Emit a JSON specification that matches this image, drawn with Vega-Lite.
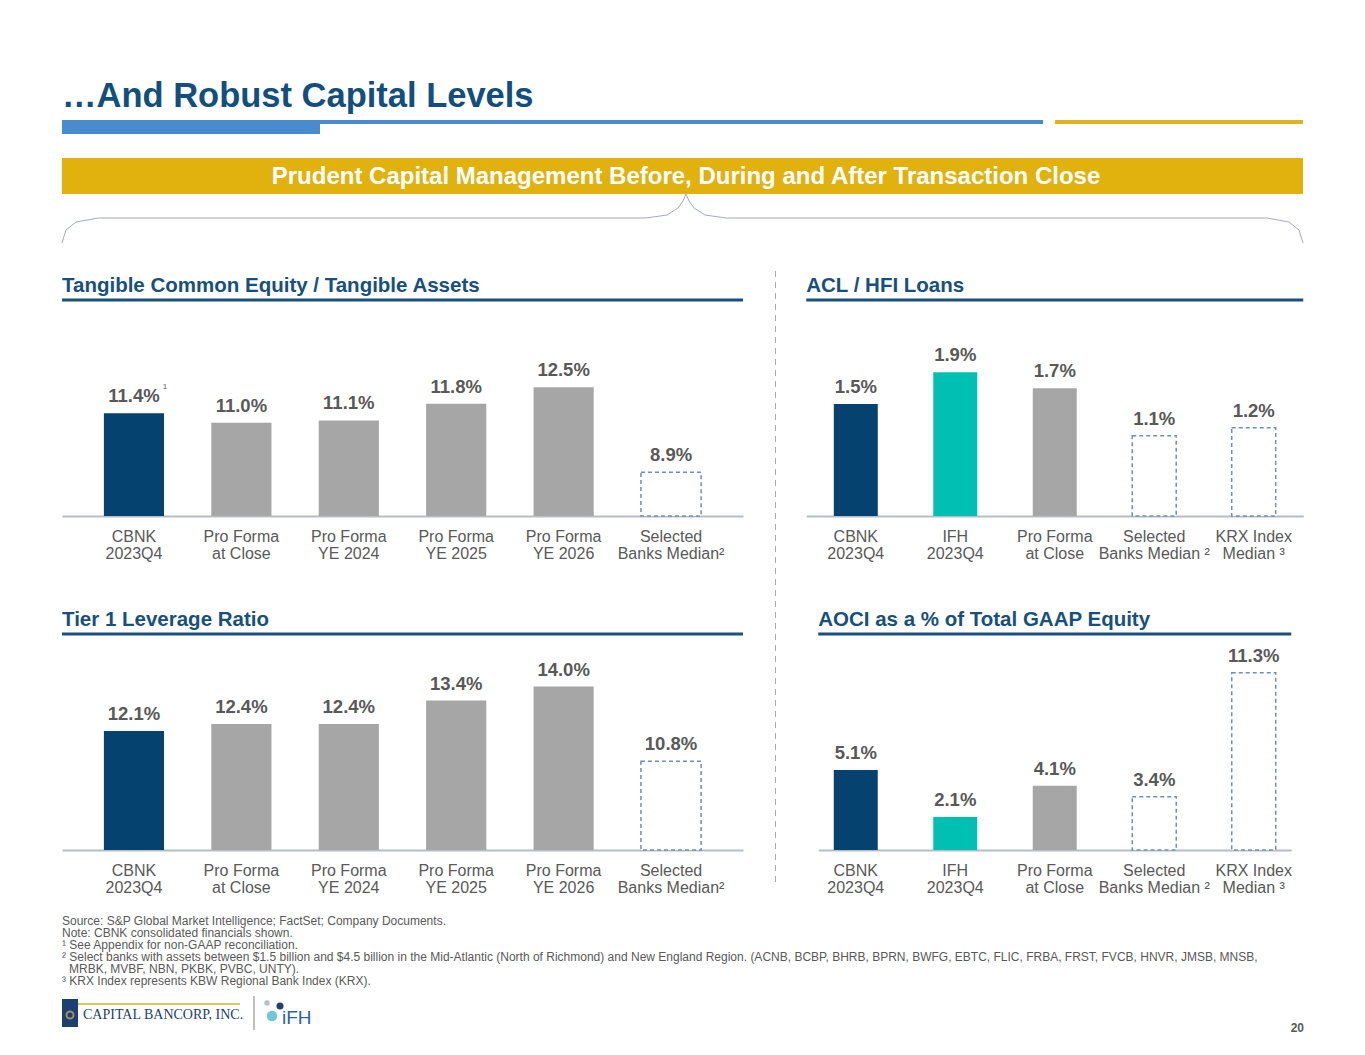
{
"$schema": "https://vega.github.io/schema/vega-lite/v6.json",
"background": "white",
"padding": {"left": 60, "top": 70, "right": 10, "bottom": 5},
"config": {"view": {"stroke": null}, "font": "Liberation Sans",
  "title": {"anchor": "start", "frame": "group", "fontSize": 20.5, "fontWeight": "bold", "color": "#17507F", "font": "Liberation Sans", "offset": 2}},
"spacing": 2,
"vconcat": [
{
 "width": 1241, "height": 198,
 "data": {"values": [{}]},
 "layer": [
  {"mark": {"type": "text", "text": "…And Robust Capital Levels", "fontSize": 34.5, "fontWeight": "bold", "color": "#124F7E", "align": "left", "baseline": "alphabetic"},
   "encoding": {"x": {"datum": 0, "type": "quantitative", "scale": {"domain": [0,1241], "nice": false, "zero": false}, "axis": null}, "y": {"datum": 36.5, "type": "quantitative", "scale": {"domain": [0,198], "reverse": true, "nice": false, "zero": false}, "axis": null}}},
  {"mark": {"type": "rect", "color": "#4A8BD0"},
   "encoding": {"x": {"datum": 0, "type": "quantitative", "scale": {"domain": [0,1241], "nice": false, "zero": false}, "axis": null}, "x2": {"datum": 258}, "y": {"datum": 50, "type": "quantitative", "scale": {"domain": [0,198], "reverse": true, "nice": false, "zero": false}, "axis": null}, "y2": {"datum": 64}}},
  {"mark": {"type": "rect", "color": "#4A8BD0"},
   "encoding": {"x": {"datum": 258, "type": "quantitative", "scale": {"domain": [0,1241], "nice": false, "zero": false}, "axis": null}, "x2": {"datum": 981}, "y": {"datum": 50, "type": "quantitative", "scale": {"domain": [0,198], "reverse": true, "nice": false, "zero": false}, "axis": null}, "y2": {"datum": 54}}},
  {"mark": {"type": "rect", "color": "#E3B31B"},
   "encoding": {"x": {"datum": 993, "type": "quantitative", "scale": {"domain": [0,1241], "nice": false, "zero": false}, "axis": null}, "x2": {"datum": 1241}, "y": {"datum": 50, "type": "quantitative", "scale": {"domain": [0,198], "reverse": true, "nice": false, "zero": false}, "axis": null}, "y2": {"datum": 54}}},
  {"mark": {"type": "rect", "color": "#E1B10E"},
   "encoding": {"x": {"datum": 0, "type": "quantitative", "scale": {"domain": [0,1241], "nice": false, "zero": false}, "axis": null}, "x2": {"datum": 1241}, "y": {"datum": 88, "type": "quantitative", "scale": {"domain": [0,198], "reverse": true, "nice": false, "zero": false}, "axis": null}, "y2": {"datum": 124}}},
  {"mark": {"type": "text", "text": "Prudent Capital Management Before, During and After Transaction Close", "fontSize": 24, "fontWeight": "bold", "color": "white", "align": "center", "baseline": "middle"},
   "encoding": {"x": {"datum": 624, "type": "quantitative", "scale": {"domain": [0,1241], "nice": false, "zero": false}, "axis": null}, "y": {"datum": 107, "type": "quantitative", "scale": {"domain": [0,198], "reverse": true, "nice": false, "zero": false}, "axis": null}}},
  {"mark": {"type": "rule", "color": "#A3ABC2", "strokeWidth": 1}, "encoding": {"x": {"datum": 0, "type": "quantitative", "scale": {"domain": [0,1241], "nice": false, "zero": false}, "axis": null}, "y": {"datum": 173, "type": "quantitative", "scale": {"domain": [0,198], "reverse": true, "nice": false, "zero": false}, "axis": null}, "x2": {"datum": 4}, "y2": {"datum": 160}}},
  {"mark": {"type": "rule", "color": "#A3ABC2", "strokeWidth": 1}, "encoding": {"x": {"datum": 4, "type": "quantitative", "scale": {"domain": [0,1241], "nice": false, "zero": false}, "axis": null}, "y": {"datum": 160, "type": "quantitative", "scale": {"domain": [0,198], "reverse": true, "nice": false, "zero": false}, "axis": null}, "x2": {"datum": 14}, "y2": {"datum": 152}}},
  {"mark": {"type": "rule", "color": "#A3ABC2", "strokeWidth": 1}, "encoding": {"x": {"datum": 14, "type": "quantitative", "scale": {"domain": [0,1241], "nice": false, "zero": false}, "axis": null}, "y": {"datum": 152, "type": "quantitative", "scale": {"domain": [0,198], "reverse": true, "nice": false, "zero": false}, "axis": null}, "x2": {"datum": 36}, "y2": {"datum": 148}}},
  {"mark": {"type": "rule", "color": "#A3ABC2", "strokeWidth": 1}, "encoding": {"x": {"datum": 36, "type": "quantitative", "scale": {"domain": [0,1241], "nice": false, "zero": false}, "axis": null}, "y": {"datum": 148, "type": "quantitative", "scale": {"domain": [0,198], "reverse": true, "nice": false, "zero": false}, "axis": null}, "x2": {"datum": 584}, "y2": {"datum": 148}}},
  {"mark": {"type": "rule", "color": "#A3ABC2", "strokeWidth": 1}, "encoding": {"x": {"datum": 584, "type": "quantitative", "scale": {"domain": [0,1241], "nice": false, "zero": false}, "axis": null}, "y": {"datum": 148, "type": "quantitative", "scale": {"domain": [0,198], "reverse": true, "nice": false, "zero": false}, "axis": null}, "x2": {"datum": 605}, "y2": {"datum": 145}}},
  {"mark": {"type": "rule", "color": "#A3ABC2", "strokeWidth": 1}, "encoding": {"x": {"datum": 605, "type": "quantitative", "scale": {"domain": [0,1241], "nice": false, "zero": false}, "axis": null}, "y": {"datum": 145, "type": "quantitative", "scale": {"domain": [0,198], "reverse": true, "nice": false, "zero": false}, "axis": null}, "x2": {"datum": 616}, "y2": {"datum": 138}}},
  {"mark": {"type": "rule", "color": "#A3ABC2", "strokeWidth": 1}, "encoding": {"x": {"datum": 616, "type": "quantitative", "scale": {"domain": [0,1241], "nice": false, "zero": false}, "axis": null}, "y": {"datum": 138, "type": "quantitative", "scale": {"domain": [0,198], "reverse": true, "nice": false, "zero": false}, "axis": null}, "x2": {"datum": 621}, "y2": {"datum": 131}}},
  {"mark": {"type": "rule", "color": "#A3ABC2", "strokeWidth": 1}, "encoding": {"x": {"datum": 621, "type": "quantitative", "scale": {"domain": [0,1241], "nice": false, "zero": false}, "axis": null}, "y": {"datum": 131, "type": "quantitative", "scale": {"domain": [0,198], "reverse": true, "nice": false, "zero": false}, "axis": null}, "x2": {"datum": 624}, "y2": {"datum": 124}}},
  {"mark": {"type": "rule", "color": "#A3ABC2", "strokeWidth": 1}, "encoding": {"x": {"datum": 624, "type": "quantitative", "scale": {"domain": [0,1241], "nice": false, "zero": false}, "axis": null}, "y": {"datum": 124, "type": "quantitative", "scale": {"domain": [0,198], "reverse": true, "nice": false, "zero": false}, "axis": null}, "x2": {"datum": 627}, "y2": {"datum": 131}}},
  {"mark": {"type": "rule", "color": "#A3ABC2", "strokeWidth": 1}, "encoding": {"x": {"datum": 627, "type": "quantitative", "scale": {"domain": [0,1241], "nice": false, "zero": false}, "axis": null}, "y": {"datum": 131, "type": "quantitative", "scale": {"domain": [0,198], "reverse": true, "nice": false, "zero": false}, "axis": null}, "x2": {"datum": 632}, "y2": {"datum": 138}}},
  {"mark": {"type": "rule", "color": "#A3ABC2", "strokeWidth": 1}, "encoding": {"x": {"datum": 632, "type": "quantitative", "scale": {"domain": [0,1241], "nice": false, "zero": false}, "axis": null}, "y": {"datum": 138, "type": "quantitative", "scale": {"domain": [0,198], "reverse": true, "nice": false, "zero": false}, "axis": null}, "x2": {"datum": 643}, "y2": {"datum": 145}}},
  {"mark": {"type": "rule", "color": "#A3ABC2", "strokeWidth": 1}, "encoding": {"x": {"datum": 643, "type": "quantitative", "scale": {"domain": [0,1241], "nice": false, "zero": false}, "axis": null}, "y": {"datum": 145, "type": "quantitative", "scale": {"domain": [0,198], "reverse": true, "nice": false, "zero": false}, "axis": null}, "x2": {"datum": 664}, "y2": {"datum": 148}}},
  {"mark": {"type": "rule", "color": "#A3ABC2", "strokeWidth": 1}, "encoding": {"x": {"datum": 664, "type": "quantitative", "scale": {"domain": [0,1241], "nice": false, "zero": false}, "axis": null}, "y": {"datum": 148, "type": "quantitative", "scale": {"domain": [0,198], "reverse": true, "nice": false, "zero": false}, "axis": null}, "x2": {"datum": 1205}, "y2": {"datum": 148}}},
  {"mark": {"type": "rule", "color": "#A3ABC2", "strokeWidth": 1}, "encoding": {"x": {"datum": 1205, "type": "quantitative", "scale": {"domain": [0,1241], "nice": false, "zero": false}, "axis": null}, "y": {"datum": 148, "type": "quantitative", "scale": {"domain": [0,198], "reverse": true, "nice": false, "zero": false}, "axis": null}, "x2": {"datum": 1227}, "y2": {"datum": 152}}},
  {"mark": {"type": "rule", "color": "#A3ABC2", "strokeWidth": 1}, "encoding": {"x": {"datum": 1227, "type": "quantitative", "scale": {"domain": [0,1241], "nice": false, "zero": false}, "axis": null}, "y": {"datum": 152, "type": "quantitative", "scale": {"domain": [0,198], "reverse": true, "nice": false, "zero": false}, "axis": null}, "x2": {"datum": 1237}, "y2": {"datum": 160}}},
  {"mark": {"type": "rule", "color": "#A3ABC2", "strokeWidth": 1}, "encoding": {"x": {"datum": 1237, "type": "quantitative", "scale": {"domain": [0,1241], "nice": false, "zero": false}, "axis": null}, "y": {"datum": 160, "type": "quantitative", "scale": {"domain": [0,198], "reverse": true, "nice": false, "zero": false}, "axis": null}, "x2": {"datum": 1241}, "y2": {"datum": 173}}}
 ]
},
{
 "spacing": 28,
 "hconcat": [
  {
   "spacing": 49,
   "vconcat": [
    {
     "width": 681, "height": 216,
     "title": {"text": "Tangible Common Equity / Tangible Assets"},
     "data": {"values": [
       {"cat": "CBNK|2023Q4", "value": 11.4, "label": "11.4%", "kind": "CBNK", "sup": "1"},
       {"cat": "Pro Forma|at Close", "value": 11.0, "label": "11.0%", "kind": "Pro Forma"},
       {"cat": "Pro Forma|YE 2024", "value": 11.1, "label": "11.1%", "kind": "Pro Forma"},
       {"cat": "Pro Forma|YE 2025", "value": 11.8, "label": "11.8%", "kind": "Pro Forma"},
       {"cat": "Pro Forma|YE 2026", "value": 12.5, "label": "12.5%", "kind": "Pro Forma"},
       {"cat": "Selected|Banks Median²", "value": 8.9, "label": "8.9%", "kind": "Peer"}
     ]},
     "layer": [
      {"transform": [{"filter": "datum.kind != 'Peer'"}],
       "mark": {"type": "bar"},
       "encoding": {
        "x": {"field": "cat", "type": "nominal", "sort": null, "scale": {"domain": ["CBNK|2023Q4","Pro Forma|at Close","Pro Forma|YE 2024","Pro Forma|YE 2025","Pro Forma|YE 2026","Selected|Banks Median²"], "paddingInner": 0.44, "paddingOuter": 0.39}, "axis": {"title": null, "labelAngle": 0, "labelExpr": "split(datum.label, '|')", "labelFontSize": 16, "labelFont": "Liberation Sans", "labelColor": "#595959", "labelLineHeight": 17, "labelPadding": 12, "labelLimit": 300, "ticks": false, "domainColor": "#B5BEC8", "domainWidth": 2, "grid": false}},
        "y": {"field": "value", "type": "quantitative", "scale": {"domain": [7.05, 16.2], "nice": false, "zero": false}, "axis": null},
        "y2": {"datum": 7.05},
        "color": {"field": "kind", "type": "nominal", "scale": {"domain": ["CBNK","IFH","Pro Forma"], "range": ["#06426F","#00BFB3","#A6A6A6"]}, "legend": null}
       }},
      {"transform": [{"filter": "datum.kind == 'Peer'"}],
       "mark": {"type": "bar", "fill": "white", "stroke": "#6E90B6", "strokeDash": [4,3], "strokeWidth": 1.5},
       "encoding": {
        "x": {"field": "cat", "type": "nominal", "sort": null, "scale": {"domain": ["CBNK|2023Q4","Pro Forma|at Close","Pro Forma|YE 2024","Pro Forma|YE 2025","Pro Forma|YE 2026","Selected|Banks Median²"], "paddingInner": 0.44, "paddingOuter": 0.39}, "axis": {"title": null, "labelAngle": 0, "labelExpr": "split(datum.label, '|')", "labelFontSize": 16, "labelFont": "Liberation Sans", "labelColor": "#595959", "labelLineHeight": 17, "labelPadding": 12, "labelLimit": 300, "ticks": false, "domainColor": "#B5BEC8", "domainWidth": 2, "grid": false}},
        "y": {"field": "value", "type": "quantitative", "scale": {"domain": [7.05, 16.2], "nice": false, "zero": false}, "axis": null},
        "y2": {"datum": 7.05}
       }},
      {"mark": {"type": "text", "baseline": "bottom", "dy": -7, "fontSize": 18.5, "fontWeight": "bold", "color": "#595959"},
       "encoding": {
        "x": {"field": "cat", "type": "nominal", "sort": null, "scale": {"domain": ["CBNK|2023Q4","Pro Forma|at Close","Pro Forma|YE 2024","Pro Forma|YE 2025","Pro Forma|YE 2026","Selected|Banks Median²"], "paddingInner": 0.44, "paddingOuter": 0.39}, "axis": {"title": null, "labelAngle": 0, "labelExpr": "split(datum.label, '|')", "labelFontSize": 16, "labelFont": "Liberation Sans", "labelColor": "#595959", "labelLineHeight": 17, "labelPadding": 12, "labelLimit": 300, "ticks": false, "domainColor": "#B5BEC8", "domainWidth": 2, "grid": false}},
        "y": {"field": "value", "type": "quantitative", "scale": {"domain": [7.05, 16.2], "nice": false, "zero": false}, "axis": null},
        "text": {"field": "label"}
       }},
      {"transform": [{"filter": "datum.sup"}],
       "mark": {"type": "text", "baseline": "bottom", "dx": 31, "dy": -22, "fontSize": 8, "color": "#595959"},
       "encoding": {
        "x": {"field": "cat", "type": "nominal", "sort": null, "scale": {"domain": ["CBNK|2023Q4","Pro Forma|at Close","Pro Forma|YE 2024","Pro Forma|YE 2025","Pro Forma|YE 2026","Selected|Banks Median²"], "paddingInner": 0.44, "paddingOuter": 0.39}, "axis": {"title": null, "labelAngle": 0, "labelExpr": "split(datum.label, '|')", "labelFontSize": 16, "labelFont": "Liberation Sans", "labelColor": "#595959", "labelLineHeight": 17, "labelPadding": 12, "labelLimit": 300, "ticks": false, "domainColor": "#B5BEC8", "domainWidth": 2, "grid": false}},
        "y": {"field": "value", "type": "quantitative", "scale": {"domain": [7.05, 16.2], "nice": false, "zero": false}, "axis": null},
        "text": {"field": "sup"}
       }},
      {"data": {"values": [{}]},
       "mark": {"type": "rule", "color": "#1B4F7D", "strokeWidth": 3},
       "encoding": {"y": {"datum": 16.2, "type": "quantitative", "scale": {"domain": [7.05, 16.2], "nice": false, "zero": false}, "axis": null}}}
     ]
    },
    {
     "width": 681, "height": 216,
     "title": {"text": "Tier 1 Leverage Ratio"},
     "data": {"values": [
       {"cat": "CBNK|2023Q4", "value": 12.1, "label": "12.1%", "kind": "CBNK"},
       {"cat": "Pro Forma|at Close", "value": 12.4, "label": "12.4%", "kind": "Pro Forma"},
       {"cat": "Pro Forma|YE 2024", "value": 12.4, "label": "12.4%", "kind": "Pro Forma"},
       {"cat": "Pro Forma|YE 2025", "value": 13.4, "label": "13.4%", "kind": "Pro Forma"},
       {"cat": "Pro Forma|YE 2026", "value": 14.0, "label": "14.0%", "kind": "Pro Forma"},
       {"cat": "Selected|Banks Median²", "value": 10.8, "label": "10.8%", "kind": "Peer"}
     ]},
     "layer": [
      {"transform": [{"filter": "datum.kind != 'Peer'"}],
       "mark": {"type": "bar"},
       "encoding": {
        "x": {"field": "cat", "type": "nominal", "sort": null, "scale": {"domain": ["CBNK|2023Q4","Pro Forma|at Close","Pro Forma|YE 2024","Pro Forma|YE 2025","Pro Forma|YE 2026","Selected|Banks Median²"], "paddingInner": 0.44, "paddingOuter": 0.39}, "axis": {"title": null, "labelAngle": 0, "labelExpr": "split(datum.label, '|')", "labelFontSize": 16, "labelFont": "Liberation Sans", "labelColor": "#595959", "labelLineHeight": 17, "labelPadding": 12, "labelLimit": 300, "ticks": false, "domainColor": "#B5BEC8", "domainWidth": 2, "grid": false}},
        "y": {"field": "value", "type": "quantitative", "scale": {"domain": [7.0, 16.25], "nice": false, "zero": false}, "axis": null},
        "y2": {"datum": 7.0},
        "color": {"field": "kind", "type": "nominal", "scale": {"domain": ["CBNK","IFH","Pro Forma"], "range": ["#06426F","#00BFB3","#A6A6A6"]}, "legend": null}
       }},
      {"transform": [{"filter": "datum.kind == 'Peer'"}],
       "mark": {"type": "bar", "fill": "white", "stroke": "#6E90B6", "strokeDash": [4,3], "strokeWidth": 1.5},
       "encoding": {
        "x": {"field": "cat", "type": "nominal", "sort": null, "scale": {"domain": ["CBNK|2023Q4","Pro Forma|at Close","Pro Forma|YE 2024","Pro Forma|YE 2025","Pro Forma|YE 2026","Selected|Banks Median²"], "paddingInner": 0.44, "paddingOuter": 0.39}, "axis": {"title": null, "labelAngle": 0, "labelExpr": "split(datum.label, '|')", "labelFontSize": 16, "labelFont": "Liberation Sans", "labelColor": "#595959", "labelLineHeight": 17, "labelPadding": 12, "labelLimit": 300, "ticks": false, "domainColor": "#B5BEC8", "domainWidth": 2, "grid": false}},
        "y": {"field": "value", "type": "quantitative", "scale": {"domain": [7.0, 16.25], "nice": false, "zero": false}, "axis": null},
        "y2": {"datum": 7.0}
       }},
      {"mark": {"type": "text", "baseline": "bottom", "dy": -7, "fontSize": 18.5, "fontWeight": "bold", "color": "#595959"},
       "encoding": {
        "x": {"field": "cat", "type": "nominal", "sort": null, "scale": {"domain": ["CBNK|2023Q4","Pro Forma|at Close","Pro Forma|YE 2024","Pro Forma|YE 2025","Pro Forma|YE 2026","Selected|Banks Median²"], "paddingInner": 0.44, "paddingOuter": 0.39}, "axis": {"title": null, "labelAngle": 0, "labelExpr": "split(datum.label, '|')", "labelFontSize": 16, "labelFont": "Liberation Sans", "labelColor": "#595959", "labelLineHeight": 17, "labelPadding": 12, "labelLimit": 300, "ticks": false, "domainColor": "#B5BEC8", "domainWidth": 2, "grid": false}},
        "y": {"field": "value", "type": "quantitative", "scale": {"domain": [7.0, 16.25], "nice": false, "zero": false}, "axis": null},
        "text": {"field": "label"}
       }},
      {"data": {"values": [{}]},
       "mark": {"type": "rule", "color": "#1B4F7D", "strokeWidth": 3},
       "encoding": {"y": {"datum": 16.25, "type": "quantitative", "scale": {"domain": [7.0, 16.25], "nice": false, "zero": false}, "axis": null}}}
     ]
    }
   ]
  },
  {
   "width": 3, "height": 586,
   "data": {"values": [{}]},
   "mark": {"type": "rule", "color": "#ABABAB", "strokeDash": [6,5], "strokeWidth": 1},
   "encoding": {
    "x": {"datum": 0.8333, "type": "quantitative", "scale": {"domain": [0,1], "nice": false, "zero": false}, "axis": null},
    "y": {"datum": 615, "type": "quantitative", "scale": {"domain": [0,586], "nice": false, "zero": false}, "axis": null},
    "y2": {"datum": 0}
   }
  },
  {
   "spacing": 49,
   "center": true,
   "vconcat": [
    {
     "width": 497, "height": 216,
     "title": {"text": "ACL / HFI Loans"},
     "data": {"values": [
       {"cat": "CBNK|2023Q4", "value": 1.5, "label": "1.5%", "kind": "CBNK"},
       {"cat": "IFH|2023Q4", "value": 1.9, "label": "1.9%", "kind": "IFH"},
       {"cat": "Pro Forma|at Close", "value": 1.7, "label": "1.7%", "kind": "Pro Forma"},
       {"cat": "Selected|Banks Median ²", "value": 1.1, "label": "1.1%", "kind": "Peer"},
       {"cat": "KRX Index|Median ³", "value": 1.2, "label": "1.2%", "kind": "Peer"}
     ]},
     "layer": [
      {"transform": [{"filter": "datum.kind != 'Peer'"}],
       "mark": {"type": "bar"},
       "encoding": {
        "x": {"field": "cat", "type": "nominal", "sort": null, "scale": {"domain": ["CBNK|2023Q4","IFH|2023Q4","Pro Forma|at Close","Selected|Banks Median ²","KRX Index|Median ³"], "paddingInner": 0.558, "paddingOuter": 0.277}, "axis": {"title": null, "labelAngle": 0, "labelExpr": "split(datum.label, '|')", "labelFontSize": 16, "labelFont": "Liberation Sans", "labelColor": "#595959", "labelLineHeight": 17, "labelPadding": 12, "labelLimit": 300, "ticks": false, "domainColor": "#B5BEC8", "domainWidth": 2, "grid": false}},
        "y": {"field": "value", "type": "quantitative", "scale": {"domain": [0.09, 2.81], "nice": false, "zero": false}, "axis": null},
        "y2": {"datum": 0.09},
        "color": {"field": "kind", "type": "nominal", "scale": {"domain": ["CBNK","IFH","Pro Forma"], "range": ["#06426F","#00BFB3","#A6A6A6"]}, "legend": null}
       }},
      {"transform": [{"filter": "datum.kind == 'Peer'"}],
       "mark": {"type": "bar", "fill": "white", "stroke": "#6E90B6", "strokeDash": [4,3], "strokeWidth": 1.5},
       "encoding": {
        "x": {"field": "cat", "type": "nominal", "sort": null, "scale": {"domain": ["CBNK|2023Q4","IFH|2023Q4","Pro Forma|at Close","Selected|Banks Median ²","KRX Index|Median ³"], "paddingInner": 0.558, "paddingOuter": 0.277}, "axis": {"title": null, "labelAngle": 0, "labelExpr": "split(datum.label, '|')", "labelFontSize": 16, "labelFont": "Liberation Sans", "labelColor": "#595959", "labelLineHeight": 17, "labelPadding": 12, "labelLimit": 300, "ticks": false, "domainColor": "#B5BEC8", "domainWidth": 2, "grid": false}},
        "y": {"field": "value", "type": "quantitative", "scale": {"domain": [0.09, 2.81], "nice": false, "zero": false}, "axis": null},
        "y2": {"datum": 0.09}
       }},
      {"mark": {"type": "text", "baseline": "bottom", "dy": -7, "fontSize": 18.5, "fontWeight": "bold", "color": "#595959"},
       "encoding": {
        "x": {"field": "cat", "type": "nominal", "sort": null, "scale": {"domain": ["CBNK|2023Q4","IFH|2023Q4","Pro Forma|at Close","Selected|Banks Median ²","KRX Index|Median ³"], "paddingInner": 0.558, "paddingOuter": 0.277}, "axis": {"title": null, "labelAngle": 0, "labelExpr": "split(datum.label, '|')", "labelFontSize": 16, "labelFont": "Liberation Sans", "labelColor": "#595959", "labelLineHeight": 17, "labelPadding": 12, "labelLimit": 300, "ticks": false, "domainColor": "#B5BEC8", "domainWidth": 2, "grid": false}},
        "y": {"field": "value", "type": "quantitative", "scale": {"domain": [0.09, 2.81], "nice": false, "zero": false}, "axis": null},
        "text": {"field": "label"}
       }},
      {"data": {"values": [{}]},
       "mark": {"type": "rule", "color": "#1B4F7D", "strokeWidth": 3},
       "encoding": {"y": {"datum": 2.81, "type": "quantitative", "scale": {"domain": [0.09, 2.81], "nice": false, "zero": false}, "axis": null}}}
     ]
    },
    {
     "width": 473, "height": 216,
     "title": {"text": "AOCI as a % of Total GAAP Equity"},
     "data": {"values": [
       {"cat": "CBNK|2023Q4", "value": 5.1, "label": "5.1%", "kind": "CBNK"},
       {"cat": "IFH|2023Q4", "value": 2.1, "label": "2.1%", "kind": "IFH"},
       {"cat": "Pro Forma|at Close", "value": 4.1, "label": "4.1%", "kind": "Pro Forma"},
       {"cat": "Selected|Banks Median ²", "value": 3.4, "label": "3.4%", "kind": "Peer"},
       {"cat": "KRX Index|Median ³", "value": 11.3, "label": "11.3%", "kind": "Peer"}
     ]},
     "layer": [
      {"transform": [{"filter": "datum.kind != 'Peer'"}],
       "mark": {"type": "bar"},
       "encoding": {
        "x": {"field": "cat", "type": "nominal", "sort": null, "scale": {"domain": ["CBNK|2023Q4","IFH|2023Q4","Pro Forma|at Close","Selected|Banks Median ²","KRX Index|Median ³"], "paddingInner": 0.558, "paddingOuter": 0.156}, "axis": {"title": null, "labelAngle": 0, "labelExpr": "split(datum.label, '|')", "labelFontSize": 16, "labelFont": "Liberation Sans", "labelColor": "#595959", "labelLineHeight": 17, "labelPadding": 12, "labelLimit": 300, "ticks": false, "domainColor": "#B5BEC8", "domainWidth": 2, "grid": false}},
        "y": {"field": "value", "type": "quantitative", "scale": {"domain": [0, 13.77], "nice": false, "zero": false}, "axis": null},
        "y2": {"datum": 0},
        "color": {"field": "kind", "type": "nominal", "scale": {"domain": ["CBNK","IFH","Pro Forma"], "range": ["#06426F","#00BFB3","#A6A6A6"]}, "legend": null}
       }},
      {"transform": [{"filter": "datum.kind == 'Peer'"}],
       "mark": {"type": "bar", "fill": "white", "stroke": "#6E90B6", "strokeDash": [4,3], "strokeWidth": 1.5},
       "encoding": {
        "x": {"field": "cat", "type": "nominal", "sort": null, "scale": {"domain": ["CBNK|2023Q4","IFH|2023Q4","Pro Forma|at Close","Selected|Banks Median ²","KRX Index|Median ³"], "paddingInner": 0.558, "paddingOuter": 0.156}, "axis": {"title": null, "labelAngle": 0, "labelExpr": "split(datum.label, '|')", "labelFontSize": 16, "labelFont": "Liberation Sans", "labelColor": "#595959", "labelLineHeight": 17, "labelPadding": 12, "labelLimit": 300, "ticks": false, "domainColor": "#B5BEC8", "domainWidth": 2, "grid": false}},
        "y": {"field": "value", "type": "quantitative", "scale": {"domain": [0, 13.77], "nice": false, "zero": false}, "axis": null},
        "y2": {"datum": 0}
       }},
      {"mark": {"type": "text", "baseline": "bottom", "dy": -7, "fontSize": 18.5, "fontWeight": "bold", "color": "#595959"},
       "encoding": {
        "x": {"field": "cat", "type": "nominal", "sort": null, "scale": {"domain": ["CBNK|2023Q4","IFH|2023Q4","Pro Forma|at Close","Selected|Banks Median ²","KRX Index|Median ³"], "paddingInner": 0.558, "paddingOuter": 0.156}, "axis": {"title": null, "labelAngle": 0, "labelExpr": "split(datum.label, '|')", "labelFontSize": 16, "labelFont": "Liberation Sans", "labelColor": "#595959", "labelLineHeight": 17, "labelPadding": 12, "labelLimit": 300, "ticks": false, "domainColor": "#B5BEC8", "domainWidth": 2, "grid": false}},
        "y": {"field": "value", "type": "quantitative", "scale": {"domain": [0, 13.77], "nice": false, "zero": false}, "axis": null},
        "text": {"field": "label"}
       }},
      {"data": {"values": [{}]},
       "mark": {"type": "rule", "color": "#1B4F7D", "strokeWidth": 3},
       "encoding": {"y": {"datum": 13.77, "type": "quantitative", "scale": {"domain": [0, 13.77], "nice": false, "zero": false}, "axis": null}}}
     ]
    }
   ]
  }
 ]
},
{
 "width": 1241, "height": 146,
 "data": {"values": [{}]},
 "layer": [
  {"mark": {"type": "text", "align": "left", "baseline": "top", "fontSize": 12, "lineHeight": 12, "color": "#595959",
    "text": ["Source: S&P Global Market Intelligence; FactSet; Company Documents.", "Note: CBNK consolidated financials shown.", "¹ See Appendix for non-GAAP reconciliation.", "² Select banks with assets between $1.5 billion and $4.5 billion in the Mid-Atlantic (North of Richmond) and New England Region. (ACNB, BCBP, BHRB, BPRN, BWFG, EBTC, FLIC, FRBA, FRST, FVCB, HNVR, JMSB, MNSB,"]},
   "encoding": {"x": {"datum": 0, "type": "quantitative", "scale": {"domain": [0,1241], "nice": false, "zero": false}, "axis": null}, "y": {"datum": 19, "type": "quantitative", "scale": {"domain": [0,146], "reverse": true, "nice": false, "zero": false}, "axis": null}}},
  {"mark": {"type": "text", "align": "left", "baseline": "top", "fontSize": 12, "lineHeight": 12, "color": "#595959", "text": "MRBK, MVBF, NBN, PKBK, PVBC, UNTY)."},
   "encoding": {"x": {"datum": 7, "type": "quantitative", "scale": {"domain": [0,1241], "nice": false, "zero": false}, "axis": null}, "y": {"datum": 67, "type": "quantitative", "scale": {"domain": [0,146], "reverse": true, "nice": false, "zero": false}, "axis": null}}},
  {"mark": {"type": "text", "align": "left", "baseline": "top", "fontSize": 12, "lineHeight": 12, "color": "#595959", "text": "³ KRX Index represents KBW Regional Bank Index (KRX)."},
   "encoding": {"x": {"datum": 0, "type": "quantitative", "scale": {"domain": [0,1241], "nice": false, "zero": false}, "axis": null}, "y": {"datum": 79, "type": "quantitative", "scale": {"domain": [0,146], "reverse": true, "nice": false, "zero": false}, "axis": null}}},
  {"mark": {"type": "rect", "color": "#E0C45C"},
   "encoding": {"x": {"datum": 16, "type": "quantitative", "scale": {"domain": [0,1241], "nice": false, "zero": false}, "axis": null}, "x2": {"datum": 178}, "y": {"datum": 106, "type": "quantitative", "scale": {"domain": [0,146], "reverse": true, "nice": false, "zero": false}, "axis": null}, "y2": {"datum": 108}}},
  {"mark": {"type": "rect", "color": "#1B3F73"},
   "encoding": {"x": {"datum": 0, "type": "quantitative", "scale": {"domain": [0,1241], "nice": false, "zero": false}, "axis": null}, "x2": {"datum": 16}, "y": {"datum": 102, "type": "quantitative", "scale": {"domain": [0,146], "reverse": true, "nice": false, "zero": false}, "axis": null}, "y2": {"datum": 130}}},
  {"mark": {"type": "point", "shape": "circle", "filled": false, "stroke": "#D9B44A", "strokeWidth": 2, "size": 50},
   "encoding": {"x": {"datum": 8, "type": "quantitative", "scale": {"domain": [0,1241], "nice": false, "zero": false}, "axis": null}, "y": {"datum": 118, "type": "quantitative", "scale": {"domain": [0,146], "reverse": true, "nice": false, "zero": false}, "axis": null}}},
  {"mark": {"type": "text", "text": "CAPITAL BANCORP, INC.", "font": "Liberation Serif", "fontSize": 14, "color": "#1B3F73", "align": "left", "baseline": "alphabetic"},
   "encoding": {"x": {"datum": 21, "type": "quantitative", "scale": {"domain": [0,1241], "nice": false, "zero": false}, "axis": null}, "y": {"datum": 122, "type": "quantitative", "scale": {"domain": [0,146], "reverse": true, "nice": false, "zero": false}, "axis": null}}},
  {"mark": {"type": "rule", "color": "#808080", "strokeWidth": 1},
   "encoding": {"x": {"datum": 192, "type": "quantitative", "scale": {"domain": [0,1241], "nice": false, "zero": false}, "axis": null}, "y": {"datum": 99, "type": "quantitative", "scale": {"domain": [0,146], "reverse": true, "nice": false, "zero": false}, "axis": null}, "y2": {"datum": 133}}},
  {"mark": {"type": "point", "shape": "circle", "filled": true, "color": "#B8C0CC", "size": 30, "opacity": 1},
   "encoding": {"x": {"datum": 205, "type": "quantitative", "scale": {"domain": [0,1241], "nice": false, "zero": false}, "axis": null}, "y": {"datum": 106, "type": "quantitative", "scale": {"domain": [0,146], "reverse": true, "nice": false, "zero": false}, "axis": null}}},
  {"mark": {"type": "point", "shape": "circle", "filled": true, "color": "#1E3F78", "size": 50, "opacity": 1},
   "encoding": {"x": {"datum": 218, "type": "quantitative", "scale": {"domain": [0,1241], "nice": false, "zero": false}, "axis": null}, "y": {"datum": 109, "type": "quantitative", "scale": {"domain": [0,146], "reverse": true, "nice": false, "zero": false}, "axis": null}}},
  {"mark": {"type": "point", "shape": "circle", "filled": true, "color": "#6FC7D8", "size": 110, "opacity": 1},
   "encoding": {"x": {"datum": 210, "type": "quantitative", "scale": {"domain": [0,1241], "nice": false, "zero": false}, "axis": null}, "y": {"datum": 119, "type": "quantitative", "scale": {"domain": [0,146], "reverse": true, "nice": false, "zero": false}, "axis": null}}},
  {"mark": {"type": "text", "text": "iFH", "fontSize": 19, "color": "#2C5FA8", "align": "left", "baseline": "alphabetic"},
   "encoding": {"x": {"datum": 220, "type": "quantitative", "scale": {"domain": [0,1241], "nice": false, "zero": false}, "axis": null}, "y": {"datum": 127, "type": "quantitative", "scale": {"domain": [0,146], "reverse": true, "nice": false, "zero": false}, "axis": null}}},
  {"mark": {"type": "text", "text": "20", "fontSize": 12, "fontWeight": "bold", "color": "#595959", "align": "right", "baseline": "middle"},
   "encoding": {"x": {"datum": 1242, "type": "quantitative", "scale": {"domain": [0,1241], "nice": false, "zero": false}, "axis": null}, "y": {"datum": 131, "type": "quantitative", "scale": {"domain": [0,146], "reverse": true, "nice": false, "zero": false}, "axis": null}}}
 ]
}
]
}
